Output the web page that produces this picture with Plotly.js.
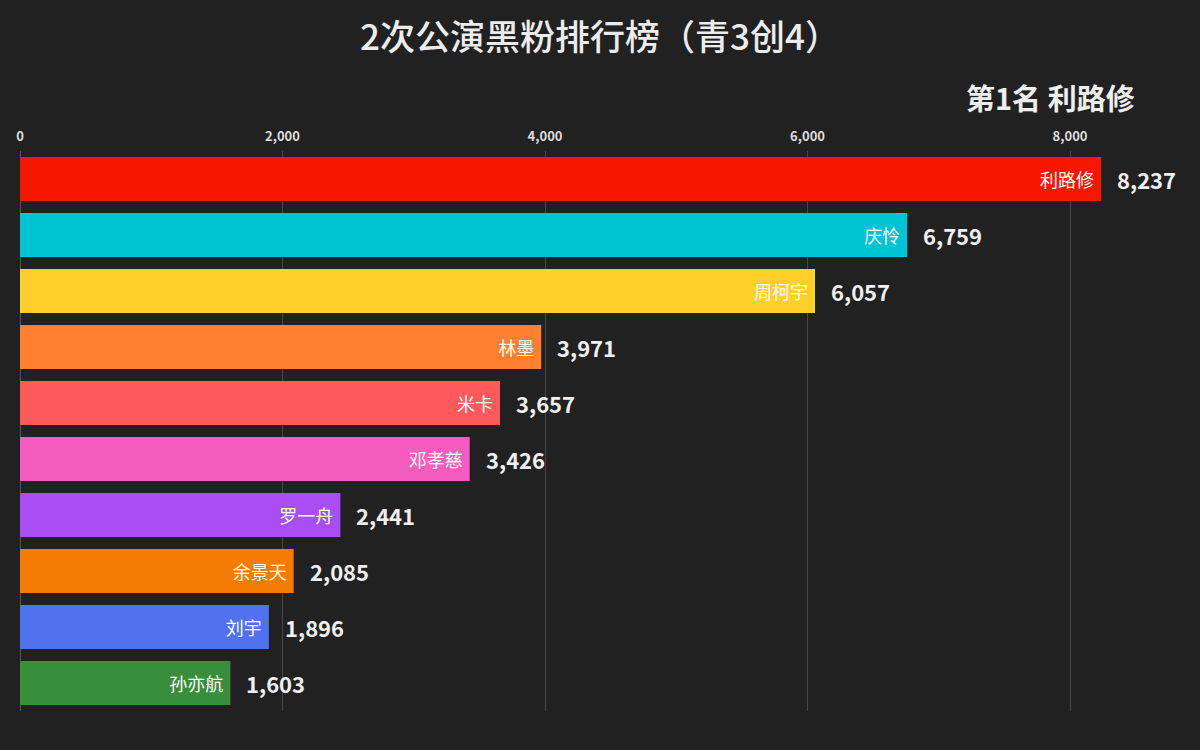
<!DOCTYPE html>
<html>
<head>
<meta charset="utf-8">
<script src="https://cdn.plot.ly/plotly-3.0.1.min.js"></script>
<style>html,body{margin:0;padding:0;background:#212121;}#chart{width:1200px;height:750px;}</style>
</head>
<body>
<div id="chart"></div>
<script>
const names = ["利路修", "庆怜", "周柯宇", "林墨", "米卡", "邓孝慈", "罗一舟", "余景天", "刘宇", "孙亦航"];
const values = [8237, 6759, 6057, 3971, 3657, 3426, 2441, 2085, 1896, 1603];
const colors = ["#f41800", "#00c4d3", "#ffd02c", "#ff8130", "#ff5a5c", "#f45dbd", "#a84ef4", "#f57c02", "#5072ef", "#398e3b"];
const tickVals = [0, 2000, 4000, 6000, 8000];
const tickText = ["0", "2,000", "4,000", "6,000", "8,000"];
const titleText = "2次公演黑粉排行榜（青3创4）";

const font = "Noto Sans CJK SC, Noto Sans, sans-serif";
const fmt = v => v.toLocaleString("en-US");

const trace = {
  type: "bar",
  orientation: "h",
  x: values,
  y: names,
  marker: {color: colors, line: {width: 0}},
  width: 0.79,
  text: names,
  texttemplate: "%{text}\u00a0",
  textposition: "inside",
  insidetextanchor: "end",
  textfont: {family: font, size: 18, color: "#ffffff"},
  cliponaxis: false,
  hoverinfo: "skip"
};

const annotations = values.map((v, i) => ({
  x: v, y: names[i], xref: "x", yref: "y",
  text: fmt(v), showarrow: false, xanchor: "left", xshift: 14,
  font: {family: font, size: 22, color: "#f0f0f0", weight: 700}
}));
annotations.push({
  x: (1137 - 20) / 1180, y: (750 - 39 - 97) / (750 - 151 - 39), xref: "paper", yref: "paper",
  text: "第1名 " + names[0], showarrow: false, xanchor: "right", yanchor: "middle",
  font: {family: font, size: 29, color: "#eeeeee", weight: 700}
});

const layout = {
  width: 1200, height: 750,
  paper_bgcolor: "#212121", plot_bgcolor: "#212121",
  margin: {l: 20, r: 0, t: 151, b: 39},
  title: {text: titleText, x: 0.5, xanchor: "center", y: 1 - 38 / 750, yanchor: "middle", yref: "container",
    font: {family: font, size: 35, color: "#ececec", weight: 500}},
  xaxis: {
    range: [0, 8990], side: "top", tickvals: tickVals, ticktext: tickText,
    showgrid: true, gridcolor: "#474747", gridwidth: 1, zeroline: true, zerolinecolor: "#555555",
    tickfont: {family: font, size: 13, color: "#dddddd", weight: 600}, ticks: "", ticklabelstandoff: 6,
    showline: false, fixedrange: true
  },
  yaxis: {
    autorange: "reversed", showticklabels: false, showgrid: false, zeroline: false, ticks: "", fixedrange: true
  },
  annotations: annotations,
  showlegend: false,
  bargap: 0.2
};

Plotly.newPlot("chart", [trace], layout, {displayModeBar: false, staticPlot: true});
</script>
</body>
</html>
